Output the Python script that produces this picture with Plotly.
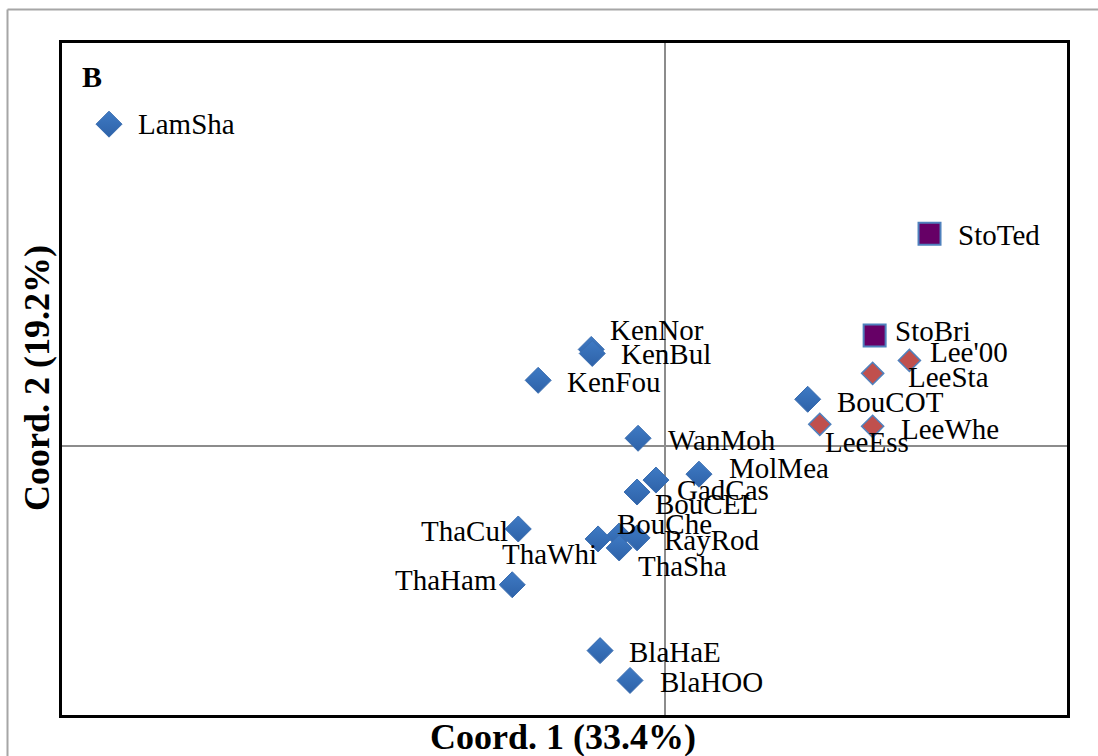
import plotly.graph_objects as go

# Principal coordinates of each population (axis 1, axis 2)
blue_names = ["LamSha", "BouCOT", "KenNor", "KenBul", "KenFou", "WanMoh", "MolMea",
              "GadCas", "BouCEL", "ThaCul", "BouChe", "RayRod", "ThaWhi", "ThaSha",
              "ThaHam", "BlaHaE", "BlaHOO"]
blue_x = [-0.2766, 0.0710, -0.0367, -0.0362, -0.0631, -0.0134, 0.0169,
          -0.0045, -0.0139, -0.0730, -0.0228, -0.0139, -0.0333, -0.0228,
          -0.0760, -0.0323, -0.0174]
blue_y = [0.2396, 0.0349, 0.0720, 0.0690, 0.0490, 0.0059, -0.0208,
          -0.0252, -0.0341, -0.0616, -0.0668, -0.0682, -0.0690, -0.0757,
          -0.1031, -0.1521, -0.1743]

red_names = ["Lee'00", "LeeSta", "LeeEss", "LeeWhe"]
red_x = [0.1216, 0.1033, 0.0770, 0.1033]
red_y = [0.0638, 0.0542, 0.0163, 0.0148]

purple_names = ["StoTed", "StoBri"]
purple_x = [0.1316, 0.1043]
purple_y = [0.1580, 0.0823]

# Label placement: anchor side and pixel offsets from each marker
label_layout = {
    "LamSha": ("left", 27, 0), "BouCOT": ("left", 27, -3), "KenNor": ("left", 17, 19),
    "KenBul": ("left", 27, -1), "KenFou": ("left", 27, -2), "WanMoh": ("left", 28, -2),
    "MolMea": ("left", 28, 6), "GadCas": ("left", 19, -10), "BouCEL": ("left", 16, -12),
    "ThaCul": ("right", -8, -2), "BouChe": ("left", -4, 12), "RayRod": ("left", 25, -2),
    "ThaWhi": ("right", 1, -15), "ThaSha": ("left", 17, -18), "ThaHam": ("right", -13, 5),
    "BlaHaE": ("left", 27, -1), "BlaHOO": ("left", 28, -2),
    "Lee'00": ("left", 19, 8), "LeeSta": ("left", 33, -4), "LeeEss": ("left", 3, -18),
    "LeeWhe": ("left", 26, -3),
    "StoTed": ("left", 26, -1), "StoBri": ("left", 18, 5),
}

W, H = 1098, 756
L, R, T, B = 62, 1067, 43, 715


def px(xp):
    return (xp - L) / (R - L)


def py(yp):
    return (B - yp) / (B - T)


fig = go.Figure()

fig.add_trace(go.Scatter(
    x=blue_x, y=blue_y, mode="markers", name="blue",
    marker=dict(symbol="diamond", size=20, color="#3E7AC4",
                line=dict(color="#3A6DB0", width=1),
                gradient=dict(type="vertical", color="#2E62A8")),
))
fig.add_trace(go.Scatter(
    x=red_x, y=red_y, mode="markers", name="red",
    marker=dict(symbol="diamond", size=17, color="#C0504D",
                line=dict(color="#4F81BD", width=1.5)),
))
fig.add_trace(go.Scatter(
    x=purple_x, y=purple_y, mode="markers", name="purple",
    marker=dict(symbol="square", size=22, color="#660066",
                line=dict(color="#4F81BD", width=2)),
))

font_lbl = dict(family="Liberation Serif, Times New Roman, serif", size=29, color="black")
annotations = []
for names, xs, ys in ((blue_names, blue_x, blue_y), (red_names, red_x, red_y),
                      (purple_names, purple_x, purple_y)):
    for n, xv, yv in zip(names, xs, ys):
        side, dx, dy = label_layout[n]
        annotations.append(dict(x=xv, y=yv, xref="x", yref="y", text=n, showarrow=False,
                                xanchor=side, yanchor="middle", xshift=dx, yshift=dy,
                                font=font_lbl))

title_font = dict(family="Liberation Serif, Times New Roman, serif", size=36, color="black")
annotations += [
    dict(text="<b>Coord. 1 (33.4%)</b>", x=px(563), y=py(737), xref="paper", yref="paper",
         showarrow=False, xanchor="center", yanchor="middle", font=title_font),
    dict(text="<b>Coord. 2 (19.2%)</b>", x=px(37), y=py(378), xref="paper", yref="paper",
         showarrow=False, xanchor="center", yanchor="middle", textangle=-90, font=title_font),
    dict(text="<b>B</b>", x=px(80), y=py(76), xref="paper", yref="paper",
         showarrow=False, xanchor="left", yanchor="middle",
         font=dict(family="Liberation Serif, Times New Roman, serif", size=30, color="black")),
]

# Outer chart-area border (left and top edges visible)
shapes = [
    dict(type="line", xref="paper", yref="paper", x0=px(7.5), x1=px(7.5), y0=py(9.5), y1=py(760),
         line=dict(color="#A6A6A6", width=2)),
    dict(type="line", xref="paper", yref="paper", x0=px(7.5), x1=px(1100), y0=py(9.5), y1=py(9.5),
         line=dict(color="#A6A6A6", width=2)),
]

axis_common = dict(showgrid=False, showticklabels=False, ticks="", zeroline=True,
                   zerolinecolor="#8C8C8C", zerolinewidth=1.5, showline=True, mirror=True,
                   linecolor="black", linewidth=2.5)

fig.update_layout(
    width=W, height=H,
    margin=dict(l=L, r=W - R, t=T, b=H - B),
    paper_bgcolor="white", plot_bgcolor="white",
    showlegend=False,
    xaxis=dict(range=[-0.3, 0.2], **axis_common),
    yaxis=dict(range=[-0.2, 0.3], **axis_common),
    annotations=annotations,
    shapes=shapes,
)

fig.write_html("out.html")
